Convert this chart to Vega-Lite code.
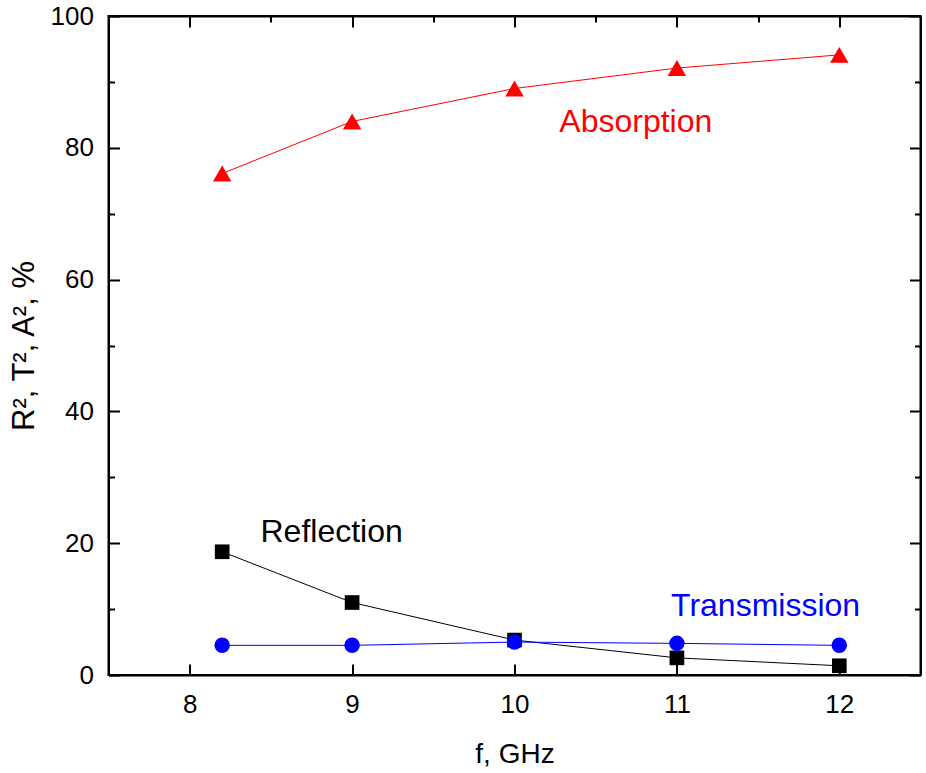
{
  "$schema": "https://vega.github.io/schema/vega-lite/v6.json",
  "width": 812,
  "height": 659,
  "autosize": "none",
  "padding": {"left": 108.5, "top": 16, "right": 5, "bottom": 98},
  "background": "white",
  "config": {
    "view": {"stroke": "black", "strokeWidth": 2},
    "font": "Liberation Sans",
    "axis": {"grid": false}
  },
  "datasets": {
    "main": [
      {"series": "Absorption", "f": 8.2, "v": 76.1},
      {"series": "Absorption", "f": 9, "v": 84.0},
      {"series": "Absorption", "f": 10, "v": 89.0},
      {"series": "Absorption", "f": 11, "v": 92.1},
      {"series": "Absorption", "f": 12, "v": 94.1},
      {"series": "Reflection", "f": 8.2, "v": 18.7},
      {"series": "Reflection", "f": 9, "v": 11.0},
      {"series": "Reflection", "f": 10, "v": 5.3},
      {"series": "Reflection", "f": 11, "v": 2.6},
      {"series": "Reflection", "f": 12, "v": 1.4},
      {"series": "Transmission", "f": 8.2, "v": 4.5},
      {"series": "Transmission", "f": 9, "v": 4.5},
      {"series": "Transmission", "f": 10, "v": 5.0},
      {"series": "Transmission", "f": 11, "v": 4.8},
      {"series": "Transmission", "f": 12, "v": 4.5}
    ],
    "labels": [
      {"series": "Absorption", "f": 10.747, "v": 82.4},
      {"series": "Reflection", "f": 8.874, "v": 20.2},
      {"series": "Transmission", "f": 11.546, "v": 8.95}
    ]
  },
  "layer": [
    {
      "data": {"name": "main"},
      "mark": {"type": "line", "strokeWidth": 1},
      "encoding": {
        "x": {
          "field": "f", "type": "quantitative",
          "scale": {"domain": [7.5, 12.5], "nice": false, "zero": false},
          "axis": {
            "orient": "bottom",
            "values": [8, 8.5, 9, 9.5, 10, 10.5, 11, 11.5, 12],
            "format": "d",
            "labelExpr": "datum.value % 1 ? '' : datum.label",
            "tickSize": {"condition": {"test": "datum.value % 1 != 0", "value": -6}, "value": -11},
            "tickWidth": 2, "tickColor": "black",
            "domainColor": "black", "domainWidth": 2,
            "labelFontSize": 26, "labelColor": "black", "labelPadding": 27,
            "title": "f, GHz", "titleFontSize": 28, "titleFontWeight": "normal",
            "titleColor": "black", "titlePadding": 23
          }
        },
        "y": {
          "field": "v", "type": "quantitative",
          "scale": {"domain": [0, 100], "nice": false},
          "axis": {
            "orient": "left",
            "values": [0, 10, 20, 30, 40, 50, 60, 70, 80, 90, 100],
            "labelExpr": "datum.value % 20 ? '' : datum.label",
            "tickSize": {"condition": {"test": "datum.value % 20 != 0", "value": -6}, "value": -11},
            "tickWidth": 2, "tickColor": "black",
            "domainColor": "black", "domainWidth": 2,
            "labelFontSize": 26, "labelColor": "black", "labelPadding": 26,
            "title": "R², T², A², %", "titleFontSize": 31, "titleFontWeight": "normal",
            "titleColor": "black", "titlePadding": 10
          }
        },
        "color": {
          "field": "series", "type": "nominal",
          "scale": {"domain": ["Absorption", "Reflection", "Transmission"], "range": ["#ff0000", "#000000", "#0000ff"]},
          "legend": null
        }
      }
    },
    {
      "data": {"name": "main"},
      "transform": [{"filter": "datum.series == 'Absorption'"}],
      "mark": {"type": "point", "shape": "triangle-up", "filled": true, "size": 340, "opacity": 1},
      "encoding": {
        "x": {"field": "f", "type": "quantitative", "axis": null},
        "y": {"field": "v", "type": "quantitative", "axis": null},
        "color": {"field": "series", "type": "nominal", "legend": null}
      }
    },
    {
      "data": {"name": "main"},
      "transform": [{"filter": "datum.series == 'Reflection'"}],
      "mark": {"type": "point", "shape": "square", "filled": true, "size": 215, "opacity": 1},
      "encoding": {
        "x": {"field": "f", "type": "quantitative", "axis": null},
        "y": {"field": "v", "type": "quantitative", "axis": null},
        "color": {"field": "series", "type": "nominal", "legend": null}
      }
    },
    {
      "data": {"name": "main"},
      "transform": [{"filter": "datum.series == 'Transmission'"}],
      "mark": {"type": "point", "shape": "circle", "filled": true, "size": 240, "opacity": 1},
      "encoding": {
        "x": {"field": "f", "type": "quantitative", "axis": null},
        "y": {"field": "v", "type": "quantitative", "axis": null},
        "color": {"field": "series", "type": "nominal", "legend": null}
      }
    },
    {
      "data": {"name": "labels"},
      "mark": {"type": "text", "fontSize": 32, "align": "center", "baseline": "alphabetic", "font": "Liberation Sans"},
      "encoding": {
        "x": {"field": "f", "type": "quantitative", "axis": null},
        "y": {"field": "v", "type": "quantitative", "axis": null},
        "text": {"field": "series"},
        "color": {"field": "series", "type": "nominal", "legend": null}
      }
    },
    {
      "data": {"name": "main"},
      "mark": {"type": "point", "opacity": 0},
      "encoding": {
        "x": {
          "field": "f", "type": "quantitative",
          "axis": {
            "orient": "top", "labels": false, "title": null,
            "values": [8, 8.5, 9, 9.5, 10, 10.5, 11, 11.5, 12],
            "tickSize": {"condition": {"test": "datum.value % 1 != 0", "value": -6}, "value": -11},
            "tickWidth": 2, "tickColor": "black",
            "domainColor": "black", "domainWidth": 2
          }
        },
        "y": {
          "field": "v", "type": "quantitative",
          "axis": {
            "orient": "right", "labels": false, "title": null,
            "values": [0, 10, 20, 30, 40, 50, 60, 70, 80, 90, 100],
            "tickSize": {"condition": {"test": "datum.value % 20 != 0", "value": -6}, "value": -11},
            "tickWidth": 2, "tickColor": "black",
            "domainColor": "black", "domainWidth": 2
          }
        }
      }
    }
  ],
  "resolve": {"axis": {"x": "independent", "y": "independent"}}
}
